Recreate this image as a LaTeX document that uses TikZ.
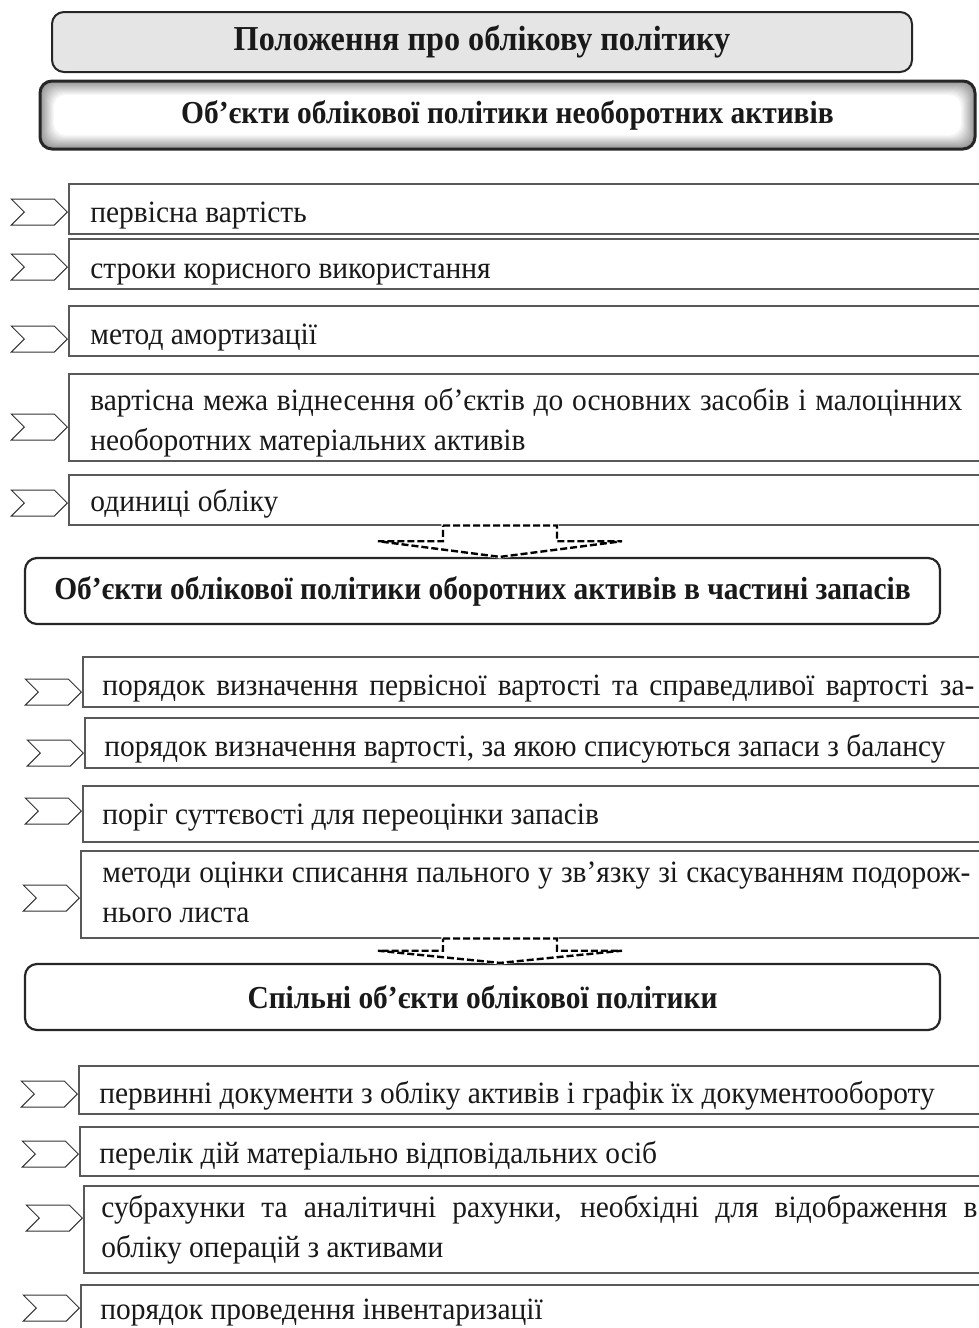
\documentclass[tikz,border=0pt]{standalone}
\usepackage{fontspec}
\setmainfont{Liberation Serif}
\newfontfamily\narrowserif[FakeStretch=0.92]{Liberation Serif}
\newfontfamily\itemserif[FakeStretch=0.95]{Liberation Serif}
\usetikzlibrary{positioning,calc,shapes.symbols}

% dashed block arrow from #1 (top of shaft) down to #2 (tip)
\newcommand{\blockarrow}[2]{%
  \draw[dasharrow] ($(#1)+(-57,0)$) -- ($(#1)+(57,0)$) -- ($(#1)!0.5!(#2)+(57,0)$)
    -- ($(#1)!0.5!(#2)+(122,0)$) -- (#2) -- ($(#1)!0.5!(#2)+(-122,0)$)
    -- ($(#1)!0.5!(#2)+(-57,0)$) -- cycle;}

\begin{document}
\begin{tikzpicture}[x=0.5pt, y=-0.5pt]
\tikzstyle{title}=[rounded corners=6pt, draw=black!85, line width=1.1pt, fill=white, inner sep=0pt, text=black!90, font=\narrowserif\fontsize{16}{19}\selectfont\bfseries]
\tikzstyle{shadedtitle}=[title, line width=1.5pt, path picture={
  \foreach \k in {0,...,14}{
    \pgfmathsetmacro{\tone}{42-3*\k}
    \fill[black!\tone, rounded corners=6pt] ([shift={({\k*0.5pt},{\k*0.5pt})}]path picture bounding box.south west) rectangle ([shift={({-\k*0.5pt},{-\k*0.5pt})}]path picture bounding box.north east);
  }}]
\tikzstyle{itembox}=[draw=black!65, line width=0.75pt, anchor=north west, minimum width=470pt, inner sep=0pt]
\tikzstyle{itemtext}=[anchor=base west, inner sep=0pt, text=black!90, font=\itemserif\fontsize{15.5}{20}\selectfont]
\tikzstyle{longtext}=[itemtext, text width=436pt, align=justify]
\tikzstyle{chev}=[shape=signal, signal from=west, signal to=east, signal pointer angle=90, minimum width=28pt, minimum height=13pt, inner sep=0pt, draw=black!80, line width=0.5pt, anchor=east]
\tikzstyle{dasharrow}=[draw=black, line width=1.2pt, dash pattern=on 3.5pt off 1.5pt, fill=white, preaction={draw=white, solid, line width=1.6pt}]

\useasboundingbox (0,0) rectangle (979,1328);
\clip (0,0) rectangle (979,1328);

\node[title, fill=black!10, line width=1pt, minimum width=430pt, minimum height=30pt, font=\narrowserif\fontsize{17.5}{20}\selectfont\bfseries] (t1) at (482,42) {Положення про облікову політику};
\node[shadedtitle, minimum width=467.5pt, minimum height=34pt] (t2) at (507.5,115) {Об’єкти облікової політики необоротних активів};

% non-current assets
\node[itembox, minimum height=25pt] (b11) at (68,183) {};
\node[itemtext] (l11) at ($(b11.south west)+(22,-12)$) {первісна вартість};
\node[chev] (c11) at ($(b11.north west)+(0,29)$) {};

\node[itembox, minimum height=25pt] (b12) at (68,238) {};
\node[itemtext] (l12) at ($(b12.south west)+(22,-11)$) {строки корисного використання};
\node[chev] (c12) at ($(b12.north west)+(0,29)$) {};

\node[itembox, minimum height=25pt] (b13) at (68,305) {};
\node[itemtext] (l13) at ($(b13.south west)+(22,-12)$) {метод амортизації};
\node[chev] (c13) at ($(b13.north west)+(0,34)$) {};

\node[itembox, minimum height=43.5pt] (b14) at (68,373) {};
\node[longtext] (l14) at ($(b14.north west)+(22,37)$) {вартісна межа віднесення об’єктів до основних засобів і малоцінних\linebreak необоротних матеріальних активів};
\node[chev] (c14) at ($(b14.north west)+(0,54)$) {};

\node[itembox, minimum height=25pt] (b15) at (68,474) {};
\node[itemtext] (l15) at ($(b15.south west)+(22,-14)$) {одиниці обліку};
\node[chev] (c15) at ($(b15.north west)+(0,29)$) {};

\node[title, minimum width=457.5pt, minimum height=33pt] (t3) at (482.5,591) {Об’єкти облікової політики оборотних активів в частині запасів};

% inventories
\node[itembox, minimum height=25pt] (b21) at (82,656) {};
\node[itemtext] (l21) at ($(b21.south west)+(20,-12)$) {\makebox[436pt][s]{порядок визначення первісної вартості та справедливої вартості за-}};
\node[chev] (c21) at ($(b21.north west)+(0,36)$) {};

\node[itembox, minimum height=25pt] (b22) at (84,717) {};
\node[itemtext] (l22) at ($(b22.south west)+(20,-12)$) {порядок визначення вартості, за якою списуються запаси з балансу};
\node[chev] (c22) at ($(b22.north west)+(0,36)$) {};

\node[itembox, minimum height=28pt] (b23) at (82,785) {};
\node[itemtext] (l23) at ($(b23.south west)+(20,-18)$) {поріг суттєвості для переоцінки запасів};
\node[chev] (c23) at ($(b23.north west)+(0,26)$) {};

\node[itembox, minimum height=43.5pt] (b24) at (80,850) {};
\node[longtext, text width=434pt] (l24) at ($(b24.north west)+(22,32)$) {методи оцінки списання пального у зв’язку зі скасуванням подорож-\linebreak нього листа};
\node[chev] (c24) at ($(b24.north west)+(0,48)$) {};

\node[title, minimum width=457.5pt, minimum height=33pt] (t4) at (482.5,997) {Спільні об’єкти облікової політики};

% common objects
\node[itembox, minimum height=24pt] (b31) at (78,1065) {};
\node[itemtext] (l31) at ($(b31.south west)+(21,-11)$) {первинні документи з обліку активів і графік їх документообороту};
\node[chev] (c31) at ($(b31.north west)+(0,29)$) {};

\node[itembox, minimum height=24.5pt] (b32) at (79,1126) {};
\node[itemtext] (l32) at ($(b32.south west)+(20,-13)$) {перелік дій матеріально відповідальних осіб};
\node[chev] (c32) at ($(b32.north west)+(0,28)$) {};

\node[itembox, minimum height=43.5pt] (b33) at (83,1185) {};
\node[longtext, text width=438pt] (l33) at ($(b33.north west)+(18,32)$) {субрахунки та аналітичні рахунки, необхідні для відображення в\linebreak обліку операцій з активами};
\node[chev] (c33) at ($(b33.north west)+(0,33)$) {};

\node[itembox, minimum height=40pt] (b34) at (80,1284) {};
\node[itemtext] (l34) at ($(b34.north west)+(20,35)$) {порядок проведення інвентаризації};
\node[chev] (c34) at ($(b34.north west)+(0,24)$) {};

% dashed arrows between groups
\coordinate (a1s) at (b15.south -| 500,0);
\coordinate (a1t) at (t3.north -| 500,0);
\blockarrow{a1s}{a1t}
\coordinate (a2s) at (b24.south -| 500,0);
\coordinate (a2t) at (t4.north -| 500,0);
\blockarrow{a2s}{a2t}
\end{tikzpicture}
\end{document}
